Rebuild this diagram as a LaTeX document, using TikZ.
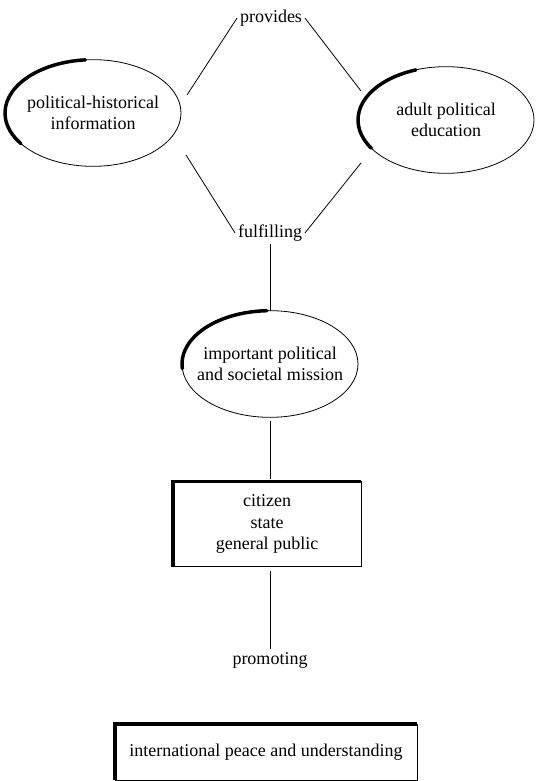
\documentclass[tikz,border=0pt]{standalone}
\usepackage{fontspec}
\setmainfont{Liberation Serif}
\usetikzlibrary{shapes.geometric}

\begin{document}
\begin{tikzpicture}[x=0.75pt, y=-0.75pt,
  every node/.style={font=\fontsize{13.5}{16}\selectfont},
  word/.style={inner sep=2pt},
  oval/.style={draw, ellipse, line width=0.6pt, minimum width=132pt, minimum height=80pt, inner xsep=-20pt, inner ysep=0pt, outer sep=0pt, align=center},
  frame/.style={draw, line width=0.6pt, outer sep=0pt, align=center},
  link/.style={line width=0.6pt},
  heavy/.style={line width=2.6pt, line cap=round}]
\useasboundingbox (0,0) rectangle (538,781);
\node[word] (prov) at (271,18) {provides};
\node[oval] (phi) at (93,113) {political-historical\\information};
\node[oval] (ape) at (446,120) {adult political\\education};
\node[word] (fulf) at (270,233) {fulfilling};
\node[oval] (mis) at (270,364) {important political\\and societal mission};
\node[frame, minimum width=141pt, minimum height=64pt] (cit) at (267,524) {citizen\\state\\general public};
\node[word] (prom) at (270,660) {promoting};
\node[frame, minimum width=226.5pt, minimum height=42pt] (ipu) at (266,752) {international peace and understanding};
\coordinate (phiT) at (187,95);
\coordinate (phiB) at (186,155);
\coordinate (apeT) at (361,91);
\coordinate (apeB) at (361,163);
% Lines
\draw[link] (prov.west) -- (phiT);
\draw[link] (phiB) -- (fulf.west);
\draw[link] (prov.east) -- (apeT);
\draw[link] (apeB) -- (fulf.east);
\draw[link] (fulf.south) -- (mis.north);
\draw[link, shorten <=3pt, shorten >=2pt] (mis.south) -- (mis.south |- cit.north);
\draw[link, shorten <=3pt] (prom.north |- cit.south) -- (prom.north);
% Heavy edges:
\draw[heavy] (phi.center) ++(95:66pt and 40pt) arc[start angle=95, end angle=215, x radius=66pt, y radius=40pt];
\draw[heavy] (ape.center) ++(110:66pt and 40pt) arc[start angle=110, end angle=212, x radius=66pt, y radius=40pt];
\draw[heavy] (mis.center) ++(92:66pt and 40pt) arc[start angle=92, end angle=185, x radius=66pt, y radius=40pt];
\draw[heavy, line cap=butt] (cit.south west) -- (cit.north west) -- (cit.north east);
\draw[heavy, line cap=butt] (ipu.south west) -- (ipu.north west) -- (ipu.north east);
\end{tikzpicture}
\end{document}
